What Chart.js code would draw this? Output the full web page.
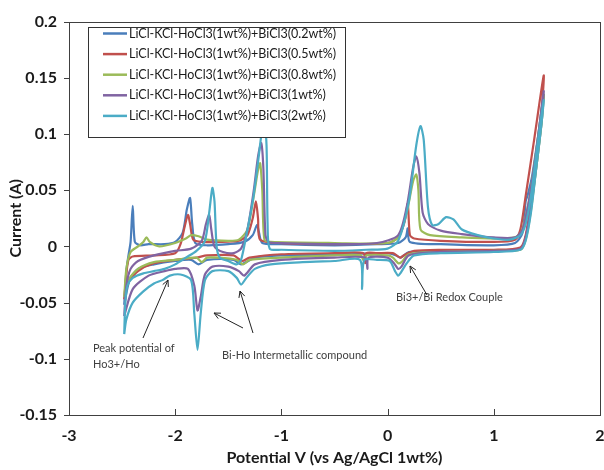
<!DOCTYPE html>
<html lang="en">
<head>
<meta charset="utf8" />
<script src="https://cdn.jsdelivr.net/npm/chart.js@4.4.1/dist/chart.umd.min.js"></script>
<title>CV curves</title>
<style>
  html, body { margin: 0; padding: 0; background: #fff; }
  #wrap { width: 604px; height: 470px; }
</style>
</head>
<body>
<div id="wrap"><canvas id="cv"></canvas></div>
<script>
// tick labels
const xTicks = [-3, -2, -1, 0, 1, 2];
const yTicks = [-0.15, -0.1, -0.05, 0, 0.05, 0.1, 0.15, 0.2];

const seriesNames = [
  'LiCl-KCl-HoCl3(1wt%)+BiCl3(0.2wt%)',
  'LiCl-KCl-HoCl3(1wt%)+BiCl3(0.5wt%)',
  'LiCl-KCl-HoCl3(1wt%)+BiCl3(0.8wt%)',
  'LiCl-KCl-HoCl3(1wt%)+BiCl3(1wt%)',
  'LiCl-KCl-HoCl3(1wt%)+BiCl3(2wt%)'
];
const seriesColors = ['#4A7EBB', '#C0504D', '#9BBB59', '#8064A2', '#4BACC6'];

// [potential V, current A], one closed loop per curve
const bi02 = [
  [-2.48, -0.052], [-2.46, -0.022], [-2.44, -0.008], [-2.42, 0.004], [-2.40, 0.036], [-2.38, 0.004],
  [-2.33, 0.001], [-2.25, 0.002], [-2.1, 0.002], [-2.0, 0.004], [-1.93, 0.012], [-1.89, 0.033],
  [-1.86, 0.043], [-1.84, 0.02], [-1.81, 0.003], [-1.7, 0.001], [-1.5, 0.002], [-1.35, 0.004],
  [-1.27, 0.01], [-1.23, 0.019], [-1.21, 0.012], [-1.18, 0.003], [-1.0, 0.002], [-0.5, 0.001],
  [-0.1, 0.002], [0.1, 0.003], [0.17, 0.008], [0.19, 0.016], [0.21, 0.004], [0.5, 0.002],
  [1.0, 0.001], [1.2, 0.003], [1.27, 0.012], [1.3, 0.04], [1.32, 0.046], [1.36, 0.062],
  [1.42, 0.1], [1.47, 0.135],
  [1.45, 0.11], [1.4, 0.07], [1.35, 0.035], [1.3, 0.008], [1.25, -0.002], [1.1, -0.004],
  [0.5, -0.004], [0.2, -0.005], [0.12, -0.01], [0.08, -0.008], [0.0, -0.006], [-0.5, -0.007],
  [-1.0, -0.008], [-1.25, -0.01], [-1.38, -0.016], [-1.45, -0.012], [-1.7, -0.012], [-1.78, -0.016],
  [-1.85, -0.012], [-2.0, -0.013], [-2.2, -0.016], [-2.35, -0.02], [-2.43, -0.03], [-2.48, -0.052]
];

const bi05 = [
  [-2.48, -0.047], [-2.46, -0.025], [-2.44, -0.012], [-2.4, -0.009], [-2.2, -0.008], [-2.0, -0.006],
  [-1.95, 0.002], [-1.91, 0.018], [-1.88, 0.028], [-1.86, 0.02], [-1.83, 0.006], [-1.75, 0.004],
  [-1.6, 0.004], [-1.4, 0.005], [-1.32, 0.01], [-1.27, 0.025], [-1.24, 0.04], [-1.22, 0.025],
  [-1.2, 0.006], [-1.0, 0.003], [-0.5, 0.002], [0.0, 0.003], [0.1, 0.008], [0.16, 0.022],
  [0.19, 0.038], [0.21, 0.01], [0.25, 0.007], [0.5, 0.005], [1.0, 0.004], [1.2, 0.006],
  [1.25, 0.015], [1.3, 0.045], [1.38, 0.095], [1.47, 0.152],
  [1.45, 0.12], [1.4, 0.08], [1.35, 0.04], [1.3, 0.01], [1.25, -0.001], [1.0, -0.003],
  [0.5, -0.003], [0.25, -0.004], [0.15, -0.008], [0.12, -0.01], [0.05, -0.006], [-0.1, -0.006],
  [-0.2, -0.006], [-0.21, -0.015], [-0.23, -0.006], [-0.5, -0.006], [-1.0, -0.007], [-1.3, -0.01],
  [-1.37, -0.013], [-1.45, -0.008], [-1.7, -0.008], [-1.8, -0.01], [-2.0, -0.012], [-2.2, -0.015],
  [-2.35, -0.022], [-2.44, -0.032], [-2.48, -0.047]
];

const bi08 = [
  [-2.48, -0.045], [-2.46, -0.02], [-2.42, -0.005], [-2.35, 0.0], [-2.3, 0.004], [-2.27, 0.008],
  [-2.24, 0.004], [-2.15, 0.0], [-2.0, 0.003], [-1.9, 0.007], [-1.85, 0.01], [-1.78, 0.009],
  [-1.7, 0.006], [-1.5, 0.005], [-1.4, 0.006], [-1.32, 0.015], [-1.26, 0.045], [-1.22, 0.068],
  [-1.2, 0.074], [-1.18, 0.05], [-1.16, 0.006], [-1.1, 0.004], [-0.5, 0.003], [0.0, 0.003],
  [0.1, 0.008], [0.18, 0.03], [0.24, 0.058], [0.27, 0.064], [0.29, 0.05], [0.31, 0.015],
  [0.4, 0.01], [0.7, 0.008], [1.0, 0.007], [1.2, 0.008], [1.26, 0.013], [1.33, 0.04],
  [1.4, 0.085], [1.47, 0.135],
  [1.45, 0.11], [1.4, 0.07], [1.35, 0.032], [1.3, 0.006], [1.25, -0.003], [1.0, -0.004],
  [0.5, -0.005], [0.2, -0.007], [0.13, -0.014], [0.1, -0.015], [0.05, -0.01], [0.0, -0.008],
  [-0.2, -0.008], [-0.23, -0.012], [-0.25, -0.008], [-0.5, -0.008], [-1.0, -0.01], [-1.3, -0.012],
  [-1.36, -0.016], [-1.42, -0.012], [-1.6, -0.01], [-1.7, -0.01], [-1.75, -0.014], [-1.8, -0.01],
  [-2.0, -0.012], [-2.2, -0.014], [-2.35, -0.02], [-2.44, -0.03], [-2.48, -0.045]
];

const bi1 = [
  [-2.48, -0.062], [-2.46, -0.035], [-2.42, -0.02], [-2.35, -0.013], [-2.2, -0.008], [-2.0, -0.004],
  [-1.85, -0.002], [-1.75, 0.005], [-1.71, 0.02], [-1.68, 0.028], [-1.66, 0.015], [-1.63, 0.0],
  [-1.55, -0.005], [-1.45, -0.006], [-1.38, -0.002], [-1.32, 0.015], [-1.26, 0.05], [-1.22, 0.08],
  [-1.19, 0.092], [-1.17, 0.07], [-1.15, 0.01], [-1.12, 0.004], [-1.0, 0.003], [-0.5, 0.002],
  [-0.1, 0.003], [0.1, 0.01], [0.18, 0.035], [0.24, 0.07], [0.27, 0.08], [0.3, 0.065],
  [0.33, 0.03], [0.38, 0.02], [0.5, 0.014], [0.7, 0.011], [1.0, 0.008], [1.2, 0.008],
  [1.27, 0.015], [1.33, 0.04], [1.4, 0.085], [1.47, 0.138],
  [1.45, 0.115], [1.4, 0.075], [1.35, 0.035], [1.3, 0.008], [1.25, -0.002], [1.0, -0.004],
  [0.5, -0.005], [0.2, -0.008], [0.13, -0.018], [0.1, -0.02], [0.06, -0.015], [0.0, -0.01],
  [-0.18, -0.01], [-0.19, -0.02], [-0.21, -0.01], [-0.5, -0.01], [-1.0, -0.012], [-1.25, -0.016],
  [-1.35, -0.026], [-1.4, -0.022], [-1.5, -0.018], [-1.65, -0.018], [-1.72, -0.025], [-1.76, -0.045],
  [-1.79, -0.057], [-1.82, -0.035], [-1.88, -0.02], [-2.0, -0.02], [-2.1, -0.022], [-2.25, -0.026],
  [-2.4, -0.038], [-2.48, -0.062]
];

const bi2 = [
  [-2.48, -0.078], [-2.47, -0.05], [-2.45, -0.035], [-2.4, -0.028], [-2.3, -0.024], [-2.2, -0.022],
  [-2.1, -0.02], [-2.0, -0.016], [-1.9, -0.01], [-1.8, -0.004], [-1.72, 0.005], [-1.68, 0.03],
  [-1.65, 0.052], [-1.63, 0.04], [-1.61, 0.0], [-1.58, -0.01], [-1.5, -0.013], [-1.42, -0.016],
  [-1.38, -0.012], [-1.33, 0.01], [-1.27, 0.04], [-1.22, 0.075], [-1.18, 0.105], [-1.16, 0.108],
  [-1.14, 0.09], [-1.13, 0.02], [-1.11, -0.002], [-1.0, -0.003], [-0.5, -0.004], [-0.2, -0.003],
  [0.0, -0.002], [0.1, 0.005], [0.2, 0.04], [0.27, 0.09], [0.31, 0.107], [0.34, 0.095],
  [0.38, 0.035], [0.42, 0.019], [0.48, 0.02], [0.55, 0.026], [0.62, 0.024], [0.7, 0.015],
  [0.85, 0.01], [1.0, 0.007], [1.15, 0.006], [1.25, 0.01], [1.3, 0.02], [1.35, 0.045],
  [1.41, 0.09], [1.47, 0.13],
  [1.45, 0.11], [1.4, 0.07], [1.35, 0.03], [1.3, 0.005], [1.25, -0.003], [1.0, -0.005],
  [0.5, -0.006], [0.25, -0.008], [0.18, -0.015], [0.12, -0.024], [0.1, -0.026], [0.07, -0.022],
  [0.02, -0.013], [-0.1, -0.012], [-0.22, -0.012], [-0.24, -0.038], [-0.26, -0.012], [-0.5, -0.013],
  [-0.8, -0.014], [-1.1, -0.016], [-1.25, -0.02], [-1.33, -0.028], [-1.38, -0.034], [-1.42, -0.028],
  [-1.5, -0.022], [-1.65, -0.022], [-1.72, -0.03], [-1.76, -0.06], [-1.79, -0.092], [-1.82, -0.06],
  [-1.85, -0.03], [-1.95, -0.025], [-2.05, -0.026], [-2.12, -0.03], [-2.2, -0.033], [-2.3, -0.04],
  [-2.4, -0.05], [-2.46, -0.065], [-2.48, -0.078]
];

const curves = [bi02, bi05, bi08, bi1, bi2];

const FONT = 'Lato, "Open Sans", sans-serif';
const INK = '#1a1a1a';

// legend, frame, ticks and notes drawn on top of the chart
const overlay = {
  id: 'overlay',
  afterDraw(chart) {
    const ctx = chart.ctx;
    const a = chart.chartArea;
    const xs = chart.scales.x, ys = chart.scales.y;
    ctx.save();

    // frame
    ctx.strokeStyle = '#404040';
    ctx.lineWidth = 1;
    ctx.strokeRect(Math.round(a.left) + 0.5, Math.round(a.top) + 0.5,
      Math.round(a.right - a.left), Math.round(a.bottom - a.top));

    // x ticks point inward, y ticks outward
    ctx.beginPath();
    xTicks.forEach(v => {
      const px = Math.round(xs.getPixelForValue(v)) + 0.5;
      ctx.moveTo(px, a.bottom);
      ctx.lineTo(px, a.bottom - 6);
    });
    yTicks.forEach(v => {
      const py = Math.round(ys.getPixelForValue(v)) + 0.5;
      ctx.moveTo(a.left, py);
      ctx.lineTo(a.left - 5, py);
    });
    ctx.stroke();

    // legend box
    const lx = 88, ly = 27, lw = 257, lh = 110;
    ctx.fillStyle = '#fff';
    ctx.fillRect(lx, ly, lw, lh);
    ctx.strokeStyle = '#333';
    ctx.strokeRect(lx + 0.5, ly + 0.5, lw, lh);
    ctx.font = '12.5px ' + FONT;
    ctx.textBaseline = 'middle';
    ctx.textAlign = 'left';
    chart.data.datasets.forEach((ds, i) => {
      const y = 33.5 + i * 20.6;
      ctx.strokeStyle = ds.borderColor;
      ctx.lineWidth = 2.5;
      ctx.beginPath();
      ctx.moveTo(103, y);
      ctx.lineTo(127, y);
      ctx.stroke();
      ctx.fillStyle = INK;
      ctx.fillText(ds.label, 129, y);
    });

    // notes
    ctx.fillStyle = '#404040';
    ctx.font = '11px ' + FONT;
    ctx.fillText('Peak potential of', 93, 348);
    ctx.fillText('Ho3+/Ho', 93, 364);
    ctx.fillText('Bi-Ho Intermetallic compound', 222, 355);
    ctx.fillText('Bi3+/Bi Redox Couple', 396, 297);

    const arrow = (x1, y1, x2, y2) => {
      ctx.strokeStyle = '#222';
      ctx.lineWidth = 1;
      ctx.beginPath();
      ctx.moveTo(x1, y1);
      ctx.lineTo(x2, y2);
      const ang = Math.atan2(y2 - y1, x2 - x1);
      ctx.moveTo(x2 - 7 * Math.cos(ang - 0.45), y2 - 7 * Math.sin(ang - 0.45));
      ctx.lineTo(x2, y2);
      ctx.lineTo(x2 - 7 * Math.cos(ang + 0.45), y2 - 7 * Math.sin(ang + 0.45));
      ctx.stroke();
    };
    arrow(143, 338, 168, 280);
    arrow(243, 328, 214, 313);
    arrow(253, 333, 240, 291);
    arrow(427, 295, 410, 266);

    ctx.restore();
  }
};

new Chart(document.getElementById('cv'), {
  type: 'scatter',
  data: {
    datasets: curves.map((c, i) => ({
      label: seriesNames[i],
      data: c.map(p => ({ x: p[0], y: p[1] })),
      showLine: true,
      borderColor: seriesColors[i],
      backgroundColor: seriesColors[i],
      borderWidth: 2.2,
      pointRadius: 0,
      tension: 0.25,
      order: curves.length - 1 - i
    }))
  },
  options: {
    responsive: true,
    maintainAspectRatio: false,
    animation: false,
    layout: { padding: { top: 19, right: 4, left: 0, bottom: 0 } },
    plugins: {
      legend: { display: false },
      tooltip: { enabled: false }
    },
    scales: {
      x: {
        type: 'linear',
        min: -3,
        max: 2,
        afterBuildTicks: s => { s.ticks = xTicks.map(v => ({ value: v })); },
        afterFit: s => { s.height = 55; s.paddingLeft = 0; s.paddingRight = 0; },
        grid: { display: false, drawTicks: false },
        border: { display: false },
        ticks: { color: INK, font: { family: FONT, size: 16, weight: 'bold' }, padding: 11, maxRotation: 0 },
        title: {
          display: true,
          text: 'Potential V (vs Ag/AgCl 1wt%)',
          color: INK,
          font: { family: FONT, size: 16, weight: 'bold' },
          padding: { top: 0, bottom: 3 }
        }
      },
      y: {
        min: -0.15,
        max: 0.2,
        afterBuildTicks: s => { s.ticks = yTicks.map(v => ({ value: v })); },
        afterFit: s => { s.width = 69; },
        grid: { display: false, drawTicks: false },
        border: { display: false },
        ticks: { color: INK, font: { family: FONT, size: 16, weight: 'bold' }, padding: 12,
          callback: v => String(+v.toFixed(2)) },
        title: {
          display: true,
          text: 'Current (A)',
          color: INK,
          font: { family: FONT, size: 16, weight: 'bold' },
          padding: { top: 6, bottom: 0 }
        }
      }
    }
  },
  plugins: [overlay]
});
</script>
</body>
</html>
